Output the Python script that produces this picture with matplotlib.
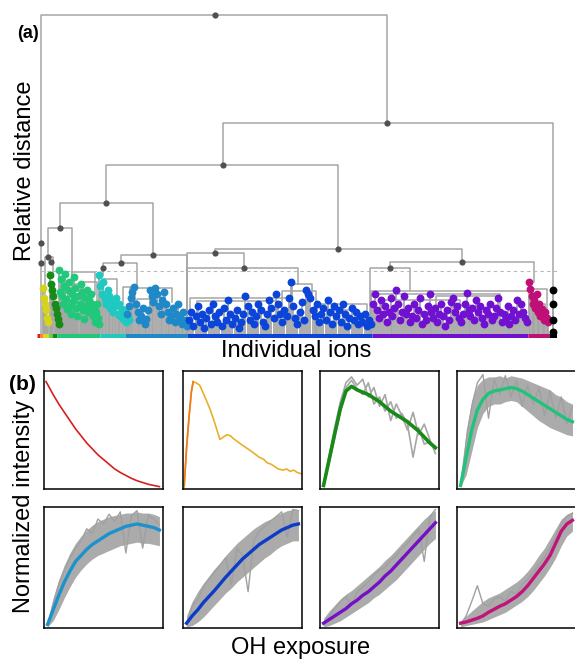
import numpy as np
import matplotlib.pyplot as plt

plt.rcParams['font.family'] = ['Liberation Sans', 'DejaVu Sans']

GREY = '#a6a6a6'
NODE = '#505050'

# ---------------- (a) dendrogram: x = ion index, y = relative distance ----------------
# merges: left x, right x, height, x of node dot, left child height, right child height
merge_xl = [4, 186, 69, 23, 11, 84, 178, 150, 353, 333, 150, 66, 8]
merge_xr = [350, 516, 301, 116, 35, 150, 425, 207, 497, 373, 261, 100, 16]
merge_h = [319, 211, 169, 131, 106, 79, 85, 81, 72, 66, 66, 71, 77]
merge_dot = [178, 350, 186, 69, 23, 116, 301, 178, 425, 353, 207, 84, 11]
merge_hl = [0, 169, 131, 106, 77, 71, 81, 0, 66, 0, 0, 59, 40]
merge_hr = [211, 0, 85, 79, 49, 0, 72, 66, 52, 44, 50, 47, 59]

extra_dot_x = [4, 4, 66, 14]
extra_dot_h = [91, 71, 66, 72]

# links inside clusters (no node dot)
sub_xl = [35, 24, 46, 28, 66, 86, 93, 113, 100, 153, 160, 245, 255, 280, 290,
          334, 334, 343, 399, 418, 495, 500]
sub_xr = [58, 42, 60, 36, 80, 98, 135, 128, 120, 253, 240, 279, 275, 330, 320,
          496, 463, 423, 463, 433, 510, 508]
sub_h = [62, 50, 52, 42, 55, 47, 46, 40, 35, 36, 33, 43, 50, 30, 24,
         43, 40, 34, 38, 29, 45, 30]
sub_hl = [45, 30, 28, 20, 40, 30, 30, 22, 20, 20, 18, 25, 32, 20, 12,
          0, 0, 20, 26, 14, 30, 15]
sub_hr = [40, 35, 20, 25, 30, 25, 32, 28, 18, 28, 22, 0, 36, 15, 16,
          40, 34, 24, 22, 18, 20, 12]

# leaf ions per cluster: index range and heights
cluster_colors = ['#d4d41c', '#178a17', '#22c87a', '#1ec9c2', '#1e88c8', '#0a44d8', '#7010d0', '#c01078', '#000000']
cluster_x0 = [6, 13, 22, 62, 90, 152, 336, 492, 516]
cluster_x1 = [11, 22, 62, 92, 150, 334, 490, 511, 516]
h_yellow = [46, 36, 30, 24, 16, 12]
h_dkgreen = [59, 50, 44, 38, 30, 26, 20, 15, 10]
h_spring = [64, 42, 55, 38, 30, 48, 60, 35, 25, 44, 52, 28, 20, 40, 33, 57, 46, 26, 18, 38,
            30, 50, 42, 24, 15, 36, 28, 44, 22, 34, 26, 40, 30, 18, 25, 12, 22, 30, 16, 10]
h_teal = [59, 48, 40, 52, 35, 30, 44, 38, 26, 33, 22, 28, 36, 20, 30, 18, 25, 15, 22, 12, 18, 14]
h_steel = [20, 28, 36, 42, 47, 30, 22, 14, 18, 26, 10, 15, 24, 44, 38, 32, 46, 40, 28, 20,
           34, 42, 30, 22, 14, 18, 26, 12, 20, 30, 16, 10, 22, 14, 8]
h_blue = [14, 22, 8, 18, 28, 12, 20, 6, 16, 24, 10, 30, 18, 12, 22, 8, 26, 14, 34, 20,
          10, 16, 24, 6, 12, 20, 38, 28, 14, 22, 10, 18, 30, 24, 12, 8, 20, 34, 26, 16,
          40, 30, 20, 12, 24, 18, 36, 52, 28, 16, 10, 22, 32, 14, 44, 40, 36, 24, 18, 30,
          12, 20, 26, 14, 34, 22, 10, 28, 18, 24, 12, 30, 20, 8, 16, 26, 14, 22, 10, 18,
          12, 20, 8, 14, 10]
h_purple = [30, 40, 24, 16, 34, 20, 28, 12, 22, 36, 18, 26, 44, 30, 14, 22, 38, 20, 26, 12,
            18, 30, 16, 24, 36, 10, 20, 14, 28, 40, 22, 16, 26, 12, 20, 30, 18, 8, 24, 14,
            32, 36, 22, 28, 16, 12, 20, 30, 41, 24, 18, 26, 14, 34, 22, 28, 16, 10, 24, 20,
            30, 14, 18, 26, 36, 22, 12, 20, 16, 28, 10, 18, 24, 14, 34, 20, 30, 22, 16, 12]
h_magenta = [52, 45, 38, 30, 34, 26, 40, 22, 30, 18, 25, 20, 14, 22, 16, 12]
h_black = [44, 30, 14, 2]
cluster_h = [h_yellow, h_dkgreen, h_spring, h_teal, h_steel, h_blue, h_purple, h_magenta, h_black]

# colour strip along the bottom
strip_x0 = [0, 3, 6, 11, 15, 20, 63, 88, 150, 335, 491, 512]
strip_x1 = [3, 6, 11, 15, 20, 63, 88, 150, 335, 491, 512, 520]
strip_colors = ['#e02020', '#f08a20', '#d8d820', '#70d040', '#158a15', '#22c878',
                '#20c8c0', '#1e88c8', '#0a44d8', '#7010d0', '#c01078', '#000000']
cut_height = 63

fig = plt.figure(figsize=(5.75, 6.59), dpi=100)
ax = fig.add_axes([37 / 575, 321 / 659, 520 / 575, 326 / 659])
ax.set_xlim(0, 520)
ax.set_ylim(-4, 322)
ax.axis('off')

for k in range(len(cluster_h)):
    hs = np.array(cluster_h[k])
    if cluster_x0[k] == cluster_x1[k]:
        xs = np.full(len(hs), cluster_x0[k])
    else:
        xs = np.linspace(cluster_x0[k], cluster_x1[k], len(hs))
    ax.vlines(xs, 0, hs, color=GREY, lw=1.3, zorder=1)
    ax.scatter(xs, hs, s=32, color=cluster_colors[k], linewidths=0, zorder=3)

for i in range(len(merge_h)):
    ax.plot([merge_xl[i], merge_xl[i], merge_xr[i], merge_xr[i]],
            [merge_hl[i], merge_h[i], merge_h[i], merge_hr[i]],
            color=GREY, lw=1.1, zorder=2)
for i in range(len(sub_h)):
    ax.plot([sub_xl[i], sub_xl[i], sub_xr[i], sub_xr[i]],
            [sub_hl[i], sub_h[i], sub_h[i], sub_hr[i]],
            color=GREY, lw=1.1, zorder=2)
ax.scatter(merge_dot, merge_h, s=20, color=NODE, linewidths=0, zorder=4)
ax.scatter(extra_dot_x, extra_dot_h, s=20, color=NODE, linewidths=0, zorder=4)
ax.plot([3, 522], [cut_height, cut_height], color='#b8b8b8', lw=0.8, ls=(0, (3, 3)), zorder=2)
for i in range(len(strip_colors)):
    ax.plot([strip_x0[i], strip_x1[i]], [-1.5, -1.5], color=strip_colors[i], lw=3.6,
            solid_capstyle='butt', zorder=5)

fig.text(28 / 575, 1 - 34 / 659, '(a)', ha='center', va='center', fontsize=13, fontweight='bold')
fig.text(25 / 575, 1 - 171 / 659, 'Relative distance', rotation=90, ha='center', va='center', fontsize=17)
fig.text(296 / 575, 1 - 351 / 659, 'Individual ions', ha='center', va='center', fontsize=17)

# ---------------- (b) temporal profiles per cluster ----------------
X = np.linspace(0.03, 0.97, 21)

x_red = [0.017, 0.077, 0.124, 0.171, 0.218, 0.265, 0.312, 0.359, 0.406, 0.453, 0.5,
         0.547, 0.594, 0.641, 0.688, 0.735, 0.782, 0.829, 0.876, 0.923, 0.97]
y_red = [0.91, 0.80, 0.72, 0.65, 0.58, 0.51, 0.45, 0.39, 0.34, 0.29, 0.25,
         0.21, 0.17, 0.14, 0.115, 0.09, 0.07, 0.055, 0.04, 0.03, 0.02]

x_orange = [0.01, 0.03, 0.05, 0.07, 0.085, 0.11, 0.14, 0.18, 0.23, 0.27, 0.31, 0.34, 0.37, 0.40,
            0.42, 0.46, 0.50, 0.53, 0.56, 0.60, 0.64, 0.68, 0.71, 0.74, 0.77, 0.80, 0.84, 0.87,
            0.90, 0.93, 0.96, 0.99]
y_orange = [0.02, 0.35, 0.60, 0.82, 0.91, 0.90, 0.88, 0.79, 0.67, 0.55, 0.42, 0.44, 0.46, 0.45,
            0.43, 0.40, 0.37, 0.35, 0.33, 0.30, 0.27, 0.25, 0.22, 0.21, 0.19, 0.17, 0.16, 0.17,
            0.15, 0.16, 0.14, 0.13]

mean3 = [0.03, 0.25, 0.47, 0.68, 0.83, 0.87, 0.84, 0.82, 0.80, 0.77, 0.74, 0.70, 0.66, 0.63,
         0.60, 0.57, 0.53, 0.49, 0.44, 0.39, 0.35]
grey3a = [0.03, 0.28, 0.52, 0.74, 0.90, 0.95, 0.88, 0.93, 0.78, 0.86, 0.70, 0.80, 0.58, 0.72,
          0.62, 0.50, 0.65, 0.46, 0.55, 0.42, 0.30]
grey3b = [0.03, 0.22, 0.44, 0.66, 0.86, 0.92, 0.85, 0.80, 0.90, 0.72, 0.78, 0.66, 0.74, 0.60,
          0.64, 0.55, 0.27, 0.52, 0.38, 0.40, 0.36]

mean4 = [0.03, 0.27, 0.50, 0.67, 0.76, 0.81, 0.83, 0.84, 0.85, 0.86, 0.85, 0.83, 0.80, 0.77,
         0.74, 0.71, 0.68, 0.65, 0.62, 0.59, 0.57]
hi4 = [0.05, 0.50, 0.75, 0.88, 0.93, 0.95, 0.95, 0.96, 0.94, 0.96, 0.95, 0.94, 0.92, 0.90,
       0.88, 0.86, 0.84, 0.80, 0.78, 0.74, 0.72]
lo4 = [0.02, 0.12, 0.32, 0.52, 0.64, 0.70, 0.72, 0.72, 0.74, 0.75, 0.74, 0.70, 0.66, 0.62,
       0.58, 0.55, 0.52, 0.50, 0.48, 0.46, 0.45]
spk4 = [0.03, 0.40, 0.70, 0.90, 0.97, 0.60, 0.93, 0.80, 0.96, 0.78, 0.92, 0.70, 0.88, 0.72,
        0.86, 0.62, 0.83, 0.60, 0.78, 0.55, 0.70]

mean5 = [0.03, 0.15, 0.27, 0.38, 0.47, 0.55, 0.60, 0.65, 0.69, 0.72, 0.75, 0.78, 0.80, 0.82,
         0.84, 0.85, 0.86, 0.85, 0.84, 0.83, 0.81]
hi5 = [0.06, 0.25, 0.40, 0.52, 0.62, 0.70, 0.76, 0.81, 0.85, 0.88, 0.90, 0.92, 0.93, 0.94,
       0.95, 0.95, 0.96, 0.95, 0.95, 0.94, 0.92]
lo5 = [0.01, 0.06, 0.15, 0.25, 0.34, 0.42, 0.48, 0.53, 0.57, 0.60, 0.62, 0.64, 0.66, 0.68,
       0.69, 0.70, 0.71, 0.70, 0.70, 0.69, 0.68]
spk5 = [0.02, 0.20, 0.36, 0.48, 0.58, 0.66, 0.72, 0.82, 0.78, 0.90, 0.86, 0.94, 0.88, 0.96,
        0.62, 0.93, 0.97, 0.66, 0.93, 0.90, 0.85]

mean6 = [0.04, 0.10, 0.15, 0.21, 0.26, 0.31, 0.365, 0.42, 0.47, 0.52, 0.57, 0.61, 0.65, 0.69,
         0.72, 0.75, 0.78, 0.81, 0.83, 0.85, 0.86]
hi6 = [0.10, 0.22, 0.30, 0.37, 0.43, 0.49, 0.54, 0.60, 0.65, 0.70, 0.74, 0.78, 0.82, 0.85,
       0.88, 0.90, 0.93, 0.95, 0.97, 0.98, 0.98]
lo6 = [0.01, 0.02, 0.05, 0.09, 0.14, 0.19, 0.24, 0.29, 0.33, 0.38, 0.42, 0.46, 0.50, 0.54,
       0.58, 0.61, 0.65, 0.68, 0.70, 0.72, 0.72]
spk6 = [0.03, 0.18, 0.24, 0.34, 0.40, 0.46, 0.52, 0.58, 0.36, 0.66, 0.60, 0.30, 0.72, 0.80,
        0.84, 0.88, 0.92, 0.96, 0.75, 0.98, 0.97]

mean7 = [0.04, 0.07, 0.10, 0.13, 0.16, 0.20, 0.23, 0.27, 0.30, 0.34, 0.38, 0.43, 0.47, 0.52,
         0.57, 0.62, 0.67, 0.72, 0.77, 0.82, 0.87]
hi7 = [0.08, 0.14, 0.19, 0.24, 0.28, 0.31, 0.35, 0.39, 0.43, 0.47, 0.51, 0.56, 0.60, 0.65,
       0.70, 0.75, 0.80, 0.85, 0.90, 0.94, 0.97]
lo7 = [0.01, 0.02, 0.04, 0.06, 0.09, 0.12, 0.15, 0.18, 0.21, 0.25, 0.28, 0.32, 0.36, 0.40,
       0.45, 0.50, 0.55, 0.60, 0.65, 0.70, 0.74]
spk7 = [0.03, 0.10, 0.16, 0.22, 0.26, 0.18, 0.30, 0.34, 0.38, 0.44, 0.48, 0.50, 0.56, 0.60,
        0.66, 0.70, 0.76, 0.82, 0.55, 0.92, 0.98]

mean8 = [0.04, 0.05, 0.065, 0.08, 0.10, 0.13, 0.155, 0.18, 0.20, 0.23, 0.26, 0.30, 0.35, 0.41,
         0.47, 0.53, 0.60, 0.70, 0.80, 0.86, 0.89]
hi8 = [0.06, 0.10, 0.14, 0.18, 0.22, 0.25, 0.27, 0.29, 0.32, 0.35, 0.38, 0.42, 0.47, 0.53,
       0.60, 0.66, 0.74, 0.82, 0.90, 0.94, 0.96]
lo8 = [0.01, 0.02, 0.03, 0.04, 0.05, 0.07, 0.09, 0.11, 0.13, 0.16, 0.19, 0.22, 0.26, 0.31,
       0.37, 0.43, 0.50, 0.58, 0.68, 0.76, 0.80]
spk8 = [0.03, 0.10, 0.22, 0.35, 0.20, 0.18, 0.24, 0.26, 0.22, 0.30, 0.28, 0.36, 0.40, 0.46,
        0.52, 0.58, 0.66, 0.76, 0.86, 0.92, 0.95]

panel_colors = ['#d62020', '#e8b02a', '#178a17', '#22c27c', '#1c92cc', '#0c3cc8', '#7610c8', '#c0147a']
band_means = [mean4, mean5, mean6, mean7, mean8]
band_hi = [hi4, hi5, hi6, hi7, hi8]
band_lo = [lo4, lo5, lo6, lo7, lo8]
band_spk = [spk4, spk5, spk6, spk7, spk8]

col_left = [44, 183, 320, 457]
row_top = [371, 507]
row_h = [118, 121]
box_w = 119

axes_b = []
for r in range(2):
    for c in range(4):
        axb = fig.add_axes([col_left[c] / 575, (659 - row_top[r] - row_h[r]) / 659,
                            box_w / 575, row_h[r] / 659])
        axb.set_xlim(0, 1)
        axb.set_ylim(0, 1)
        axb.set_xticks([])
        axb.set_yticks([])
        for sp in axb.spines.values():
            sp.set_linewidth(1.1)
            sp.set_color('black')
        axes_b.append(axb)

axes_b[0].plot(x_red, y_red, color=panel_colors[0], lw=1.2)
axes_b[1].plot(x_orange, y_orange, color=panel_colors[1], lw=1.2)
axes_b[1].plot(x_orange[:5], y_orange[:5], color='#f07a1e', lw=1.2)

axes_b[2].plot(X, grey3a, color=GREY, lw=1.2)
axes_b[2].plot(X, grey3b, color=GREY, lw=1.2)
axes_b[2].plot(X, mean3, color=panel_colors[2], lw=2.6)

for j in range(5):
    axb = axes_b[3 + j]
    axb.fill_between(X, band_lo[j], band_hi[j], color='#ababab', lw=0)
    axb.plot(X, band_spk[j], color='#a0a0a0', lw=1.0)
    axb.plot(X, band_means[j], color=panel_colors[3 + j], lw=2.4)

fig.text(22 / 575, 1 - 384 / 659, '(b)', ha='center', va='center', fontsize=15, fontweight='bold')
fig.text(24 / 575, 1 - 506 / 659, 'Normalized intensity', rotation=90, ha='center', va='center', fontsize=17)
fig.text(301 / 575, 1 - 648 / 659, 'OH exposure', ha='center', va='center', fontsize=17)

fig.savefig('out.png', dpi=100)
